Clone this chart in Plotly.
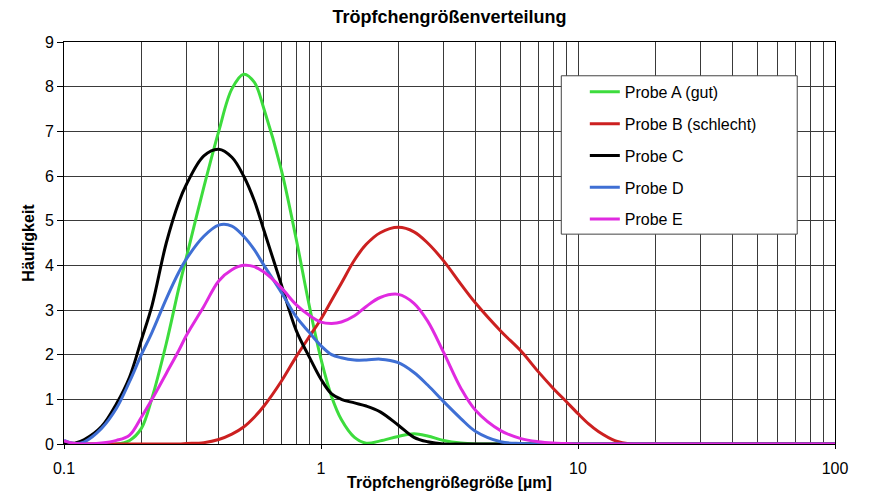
import plotly.graph_objects as go

# droplet size in µm
size = [0.1, 0.11, 0.12, 0.14, 0.16, 0.18, 0.2, 0.22, 0.25, 0.28, 0.3, 0.35, 0.4, 0.45,
        0.5, 0.55, 0.6, 0.7, 0.8, 0.9, 1.0, 1.1, 1.2, 1.35, 1.5, 1.7, 2.0, 2.3, 2.6, 3.0,
        3.5, 4.0, 5.0, 6.0, 7.0, 8.0, 9.0, 10, 11, 12, 14, 16, 20, 30, 50, 100]

probe_a = [0, 0, 0, 0, 0, 0.08, 0.35, 1.03, 2.25, 3.5, 4.2, 5.75, 7.0, 7.95,
           8.28, 8.1, 7.5, 6.15, 4.6, 3.1, 1.9, 1.06, 0.55, 0.15, 0.02, 0.07, 0.17, 0.23, 0.18, 0.08,
           0.02, 0, 0, 0, 0, 0, 0, 0, 0, 0, 0, 0, 0, 0, 0, 0]
probe_b = [0, 0, 0, 0, 0, 0, 0, 0, 0, 0, 0.01, 0.03, 0.1, 0.22,
           0.38, 0.6, 0.85, 1.4, 1.95, 2.4, 2.8, 3.22, 3.6, 4.12, 4.47, 4.73, 4.85, 4.75, 4.5, 4.1,
           3.58, 3.15, 2.53, 2.08, 1.62, 1.25, 0.95, 0.68, 0.45, 0.28, 0.07, 0, 0, 0, 0, 0]
probe_c = [0.03, 0.02, 0.1, 0.39, 0.9, 1.5, 2.33, 3.1, 4.5, 5.42, 5.82, 6.45, 6.6, 6.42,
           6.0, 5.45, 4.78, 3.58, 2.55, 1.95, 1.45, 1.12, 1.0, 0.92, 0.85, 0.72, 0.42, 0.15, 0.05, 0,
           0, 0, 0, 0, 0, 0, 0, 0, 0, 0, 0, 0, 0, 0, 0, 0]
probe_d = [0.08, 0.01, 0.05, 0.35, 0.8, 1.4, 2.0, 2.5, 3.25, 3.85, 4.15, 4.65, 4.9, 4.88,
           4.65, 4.35, 4.0, 3.4, 2.85, 2.5, 2.2, 2.0, 1.93, 1.88, 1.88, 1.9, 1.82, 1.6, 1.32, 0.95,
           0.57, 0.28, 0.05, 0.01, 0, 0, 0, 0, 0, 0, 0, 0, 0, 0, 0, 0]
probe_e = [0.07, 0.01, 0, 0.02, 0.08, 0.2, 0.6, 1.0, 1.58, 2.1, 2.44, 3.08, 3.65, 3.9,
           4.0, 3.97, 3.85, 3.5, 3.12, 2.88, 2.73, 2.7, 2.73, 2.87, 3.08, 3.28, 3.35, 3.15, 2.75, 2.05,
           1.25, 0.75, 0.3, 0.12, 0.05, 0.02, 0.01, 0, 0, 0, 0, 0, 0, 0, 0, 0]

names = ["Probe A (gut)", "Probe B (schlecht)", "Probe C", "Probe D", "Probe E"]
colors = ["#3ddc3d", "#cc2020", "#000000", "#3f6fd4", "#e02ae0"]
series = [probe_a, probe_b, probe_c, probe_d, probe_e]

font = "Liberation Sans, Arial, sans-serif"
grid = "#3a3a3a"

fig = go.Figure()
for name, col, vals in zip(names, colors, series):
    fig.add_trace(go.Scatter(x=size, y=vals, mode="lines", name=name, legendgroup=name,
                             line=dict(color=col, width=3, shape="spline", smoothing=1.0)))

# legend frame
fig.add_shape(type="rect", xref="paper", yref="paper", x0=0.645, x1=0.951, y0=0.522, y1=0.916,
              fillcolor="white", line=dict(color="#444", width=1), layer="above")

# page has an 8px body margin, so the figure is a bit smaller than the window
fig.update_layout(
    width=865, height=496,
    margin=dict(l=56, r=38, t=34, b=60),
    paper_bgcolor="white", plot_bgcolor="white",
    font=dict(family=font, size=16, color="black"),
    title=dict(text="<b>Tröpfchengrößenverteilung</b>", xref="paper", x=0.5, xanchor="center",
               yref="container", y=1 - 9 / 496, yanchor="middle", font=dict(size=18)),
    legend=dict(x=0.6755, y=0.918, xanchor="left", yanchor="top", bgcolor="rgba(0,0,0,0)",
                borderwidth=0, tracegroupgap=8, font=dict(size=16)),
)
fig.update_xaxes(type="log", range=[-1, 2], tickvals=[0.1, 1, 10, 100],
                 ticktext=["0.1", "1", "10", "100"],
                 showgrid=True, gridcolor=grid, gridwidth=1,
                 minor=dict(dtick="D1", showgrid=True, gridcolor=grid, gridwidth=1, ticks=""),
                 showline=True, linecolor="black", linewidth=1, mirror=True,
                 ticks="outside", ticklen=4, tickcolor="black", zeroline=False,
                 ticklabelstandoff=6,
                 title=dict(text="<b>Tröpfchengrößegröße [µm]</b>", standoff=0, font=dict(size=16)))
fig.update_yaxes(range=[0, 9], dtick=1, showgrid=True, gridcolor=grid, gridwidth=1,
                 showline=True, linecolor="black", linewidth=1, mirror=True,
                 ticks="outside", ticklen=6, tickcolor="black", zeroline=False,
                 title=dict(text="<b>Häufigkeit</b>", standoff=6, font=dict(size=16)))

fig.write_html("out.html")
